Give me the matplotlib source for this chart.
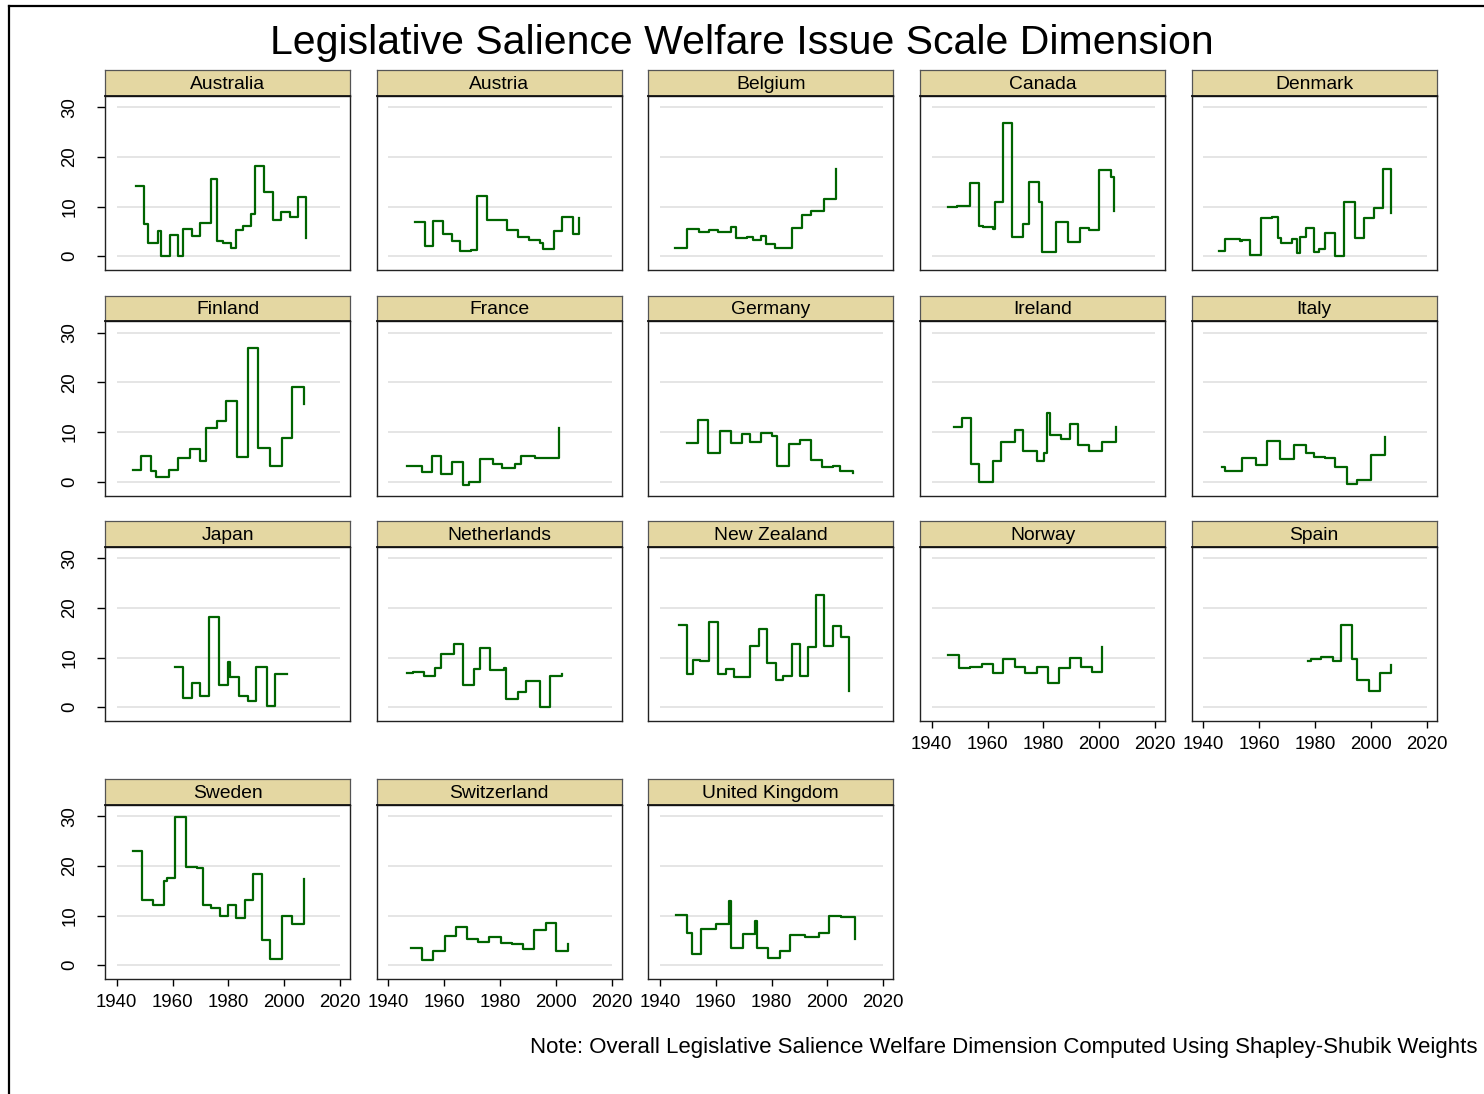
import matplotlib.pyplot as plt
from matplotlib.lines import Line2D

# Step series (year, welfare salience score)
australia_years = [1946.9, 1949.7, 1951.1, 1954.9, 1955.9, 1959.0, 1962.0, 1963.9, 1967.0, 1969.9, 1973.8, 1975.9,
                   1978.0, 1980.8, 1982.7, 1985.1, 1988.0, 1989.7, 1992.9, 1996.0, 1999.0, 2002.1, 2004.8, 2007.9]
australia_vals = [14.2, 6.5, 2.7, 5.1, 0.0, 4.3, 0.0, 5.4, 4.1, 6.7, 15.6, 3.0,
                  2.6, 1.6, 5.3, 6.1, 8.4, 18.2, 12.9, 7.2, 8.9, 7.8, 12.0, 3.6]

austria_years = [1949.7, 1953.0, 1955.8, 1959.7, 1962.7, 1965.7, 1969.7, 1971.6, 1975.4, 1982.4, 1986.6, 1990.3,
                 1994.4, 1995.4, 1999.2, 2002.2, 2006.3, 2008.2]
austria_vals = [6.9, 2.0, 7.0, 4.4, 3.1, 1.1, 1.3, 12.2, 7.2, 5.3, 3.8, 3.3,
                2.6, 1.5, 5.1, 7.9, 4.5, 7.7]

belgium_years = [1945.4, 1949.5, 1953.8, 1957.4, 1960.7, 1965.3, 1967.3, 1971.2, 1973.3, 1976.2, 1978.1, 1981.2,
                 1987.3, 1990.9, 1994.2, 1998.7, 2002.9]
belgium_vals = [1.7, 5.4, 4.9, 5.3, 4.8, 5.9, 3.6, 3.8, 3.2, 4.1, 2.4, 1.7,
                5.7, 8.2, 9.2, 11.6, 17.6]

canada_years = [1945.9, 1949.0, 1953.7, 1956.8, 1958.3, 1962.1, 1962.8, 1965.7, 1968.9, 1972.6, 1974.9, 1978.6,
                1979.4, 1984.5, 1988.7, 1993.3, 1996.5, 2000.1, 2004.2, 2005.3]
canada_vals = [9.9, 10.1, 14.7, 6.1, 5.9, 5.5, 10.9, 26.8, 3.8, 6.5, 14.9, 11.0,
               0.9, 6.9, 2.8, 5.7, 5.3, 17.3, 15.9, 9.1]

denmark_years = [1945.7, 1947.9, 1953.0, 1953.7, 1956.8, 1960.7, 1964.6, 1966.7, 1967.9, 1971.7, 1973.4, 1974.6,
                 1976.6, 1979.6, 1981.4, 1983.5, 1987.3, 1990.4, 1994.3, 1997.5, 2001.1, 2004.4, 2007.1]
denmark_vals = [1.1, 3.4, 3.1, 3.3, 0.3, 7.7, 7.9, 3.6, 2.7, 3.4, 0.7, 3.8,
                5.6, 0.9, 1.4, 4.7, 0.1, 10.9, 3.6, 7.6, 9.7, 17.6, 8.7]

finland_years = [1945.7, 1948.8, 1952.2, 1954.0, 1958.9, 1962.1, 1966.1, 1969.7, 1972.0, 1975.9, 1979.0, 1983.0,
                 1986.9, 1990.7, 1995.0, 1999.1, 2002.9, 2007.1]
finland_vals = [2.3, 5.2, 2.1, 0.9, 2.4, 4.8, 6.6, 4.1, 10.8, 12.3, 16.2, 5.0,
                27.0, 6.8, 3.2, 8.7, 19.1, 15.6]

france_years = [1946.7, 1951.9, 1955.6, 1958.9, 1962.9, 1966.7, 1968.7, 1972.7, 1977.5, 1980.6, 1985.5, 1987.5,
                1992.4, 2001.3]
france_vals = [3.1, 2.0, 5.2, 1.5, 4.0, -0.6, 0.0, 4.5, 3.6, 2.7, 3.6, 5.1,
               4.8, 10.8]

germany_years = [1949.6, 1953.6, 1957.3, 1961.6, 1965.4, 1969.3, 1972.1, 1976.3, 1980.2, 1982.1, 1986.1, 1990.0,
                 1994.1, 1997.9, 2002.0, 2004.6, 2009.0]
germany_vals = [7.7, 12.5, 5.8, 10.2, 7.7, 9.7, 7.9, 9.9, 9.2, 3.2, 7.5, 8.4,
                4.3, 2.9, 3.2, 2.1, 1.7]

ireland_years = [1948.0, 1950.9, 1953.9, 1956.8, 1962.0, 1964.8, 1969.7, 1972.6, 1977.6, 1980.4, 1981.4, 1982.5,
                 1986.4, 1989.4, 1992.3, 1996.5, 2000.9, 2006.1]
ireland_vals = [11.0, 12.9, 3.5, 0.0, 4.1, 7.9, 10.4, 6.1, 4.2, 5.8, 13.8, 9.5,
                8.6, 11.7, 7.4, 6.2, 7.9, 11.0]

italy_years = [1946.7, 1947.6, 1953.7, 1958.7, 1962.9, 1967.5, 1972.5, 1976.8, 1979.5, 1983.5, 1987.3, 1991.3,
               1995.0, 2000.1, 2005.2]
italy_vals = [3.0, 2.1, 4.8, 3.4, 8.1, 4.6, 7.4, 5.8, 4.9, 4.7, 2.9, -0.5,
              0.3, 5.4, 8.9]

japan_years = [1960.8, 1963.9, 1966.9, 1969.7, 1973.0, 1976.7, 1979.9, 1980.6, 1983.8, 1986.9, 1989.9, 1994.0,
               1996.8, 2001.1]
japan_vals = [8.1, 1.8, 4.9, 2.2, 18.1, 4.5, 9.2, 6.1, 2.2, 1.3, 8.1, 0.2,
              6.6, 6.6]

netherlands_years = [1946.7, 1948.8, 1952.9, 1956.6, 1958.9, 1963.5, 1966.6, 1970.6, 1972.8, 1976.3, 1981.3, 1982.3,
                     1986.3, 1989.3, 1994.3, 1998.0, 2002.2]
netherlands_vals = [6.8, 7.0, 6.2, 7.8, 10.7, 12.7, 4.4, 7.6, 12.0, 7.4, 7.8, 1.7,
                    3.0, 5.2, 0.1, 6.2, 6.6]

nz_years = [1946.7, 1949.7, 1951.7, 1954.4, 1957.4, 1960.7, 1963.5, 1966.6, 1972.2, 1975.4, 1978.3, 1981.4,
            1984.1, 1987.4, 1990.2, 1993.1, 1995.8, 1998.9, 2002.1, 2004.7, 2007.9]
nz_vals = [16.6, 6.6, 9.5, 9.3, 17.2, 6.6, 7.6, 6.1, 12.4, 15.8, 8.8, 5.5,
           6.2, 12.7, 6.2, 12.2, 22.6, 12.4, 16.4, 14.2, 3.2]

norway_years = [1945.9, 1949.9, 1953.7, 1957.9, 1961.9, 1965.7, 1969.7, 1973.6, 1977.6, 1981.6, 1985.5, 1989.6,
                1993.5, 1997.4, 2001.1]
norway_vals = [10.5, 7.9, 8.1, 8.6, 6.8, 9.7, 8.1, 6.8, 8.1, 4.8, 7.9, 10.0,
               8.1, 7.0, 12.2]

spain_years = [1977.6, 1978.6, 1982.3, 1986.5, 1989.2, 1993.4, 1995.2, 1999.4, 2003.4, 2007.2]
spain_vals = [9.4, 9.8, 10.1, 9.3, 16.5, 9.8, 5.4, 3.3, 6.8, 8.5]

sweden_years = [1945.7, 1949.0, 1952.9, 1957.0, 1957.9, 1961.0, 1964.8, 1968.9, 1971.0, 1973.9, 1976.9, 1979.9,
                1982.9, 1986.0, 1989.0, 1992.2, 1995.0, 1999.1, 2002.8, 2007.1]
sweden_vals = [23.0, 13.2, 12.2, 17.0, 17.5, 29.8, 19.7, 19.5, 12.2, 11.5, 10.0, 12.2,
               9.5, 13.2, 18.4, 5.0, 1.3, 10.0, 8.2, 17.3]

swiss_years = [1948.0, 1952.1, 1956.0, 1960.2, 1964.1, 1968.1, 1972.1, 1976.2, 1980.2, 1984.2, 1988.1, 1992.0,
               1996.3, 2000.2, 2004.3]
swiss_vals = [3.5, 1.0, 2.9, 5.9, 7.7, 5.2, 4.7, 5.7, 4.4, 4.2, 3.2, 7.0,
              8.4, 2.8, 4.3]

uk_years = [1945.6, 1949.6, 1951.6, 1954.8, 1959.9, 1964.8, 1965.6, 1969.7, 1973.9, 1974.7, 1978.8, 1982.9,
            1986.7, 1991.8, 1996.9, 2000.7, 2004.9, 2010.0]
uk_vals = [10.2, 6.4, 2.3, 7.3, 8.2, 13.0, 3.5, 6.3, 8.8, 3.5, 1.5, 2.9,
           6.1, 5.7, 6.4, 10.0, 9.7, 5.2]

countries = ["Australia", "Austria", "Belgium", "Canada", "Denmark",
             "Finland", "France", "Germany", "Ireland", "Italy",
             "Japan", "Netherlands", "New Zealand", "Norway", "Spain",
             "Sweden", "Switzerland", "United Kingdom"]
series = [(australia_years, australia_vals), (austria_years, austria_vals), (belgium_years, belgium_vals),
          (canada_years, canada_vals), (denmark_years, denmark_vals), (finland_years, finland_vals),
          (france_years, france_vals), (germany_years, germany_vals), (ireland_years, ireland_vals),
          (italy_years, italy_vals), (japan_years, japan_vals), (netherlands_years, netherlands_vals),
          (nz_years, nz_vals), (norway_years, norway_vals), (spain_years, spain_vals),
          (sweden_years, sweden_vals), (swiss_years, swiss_vals), (uk_years, uk_vals)]

x_ticks = [1940, 1960, 1980, 2000, 2020]
y_ticks = [0, 10, 20, 30]

TITLE = "Legislative Salience Welfare Issue Scale Dimension"
NOTE = "Note: Overall Legislative Salience Welfare Dimension Computed Using Shapley-Shubik Weights"

# layout in pixels
W, H = 1484, 1094
COL_LEFT = [105, 376.7, 648.3, 920, 1191.7]
ROW_TOP = [70, 295.5, 521, 779]
PANEL_W = 245
STRIP_H = 25.5
PLOT_H = 174.5

LINE_COLOR = "#006400"
STRIP_COLOR = "#e4d7a2"
GRID_COLOR = "#e0e0e0"

plt.rcParams['font.family'] = ['Liberation Sans', 'DejaVu Sans']

fig = plt.figure(figsize=(W / 100, H / 100), dpi=100)


def px_axes(x, y, w, h, **kw):
    return fig.add_axes([x / W, 1 - (y + h) / H, w / W, h / H], **kw)


# outer frame of the original graph (cropped on the right and bottom)
fig.add_artist(Line2D([9 / W, 9 / W], [0, 1 - 6 / H], color="black", lw=1.6))
fig.add_artist(Line2D([9 / W, 1], [1 - 6 / H, 1 - 6 / H], color="black", lw=1.6))

for i, name in enumerate(countries):
    r, c = divmod(i, 5)
    left = COL_LEFT[c]
    top = ROW_TOP[r]

    ax = px_axes(left, top + STRIP_H, PANEL_W, PLOT_H)
    yrs, vals = series[i]
    ax.hlines(y_ticks, 1940, 2020, color=GRID_COLOR, lw=1.2, zorder=1)
    ax.step(yrs, vals, where="post", color=LINE_COLOR, lw=1.6, zorder=3)
    ax.set_xlim(1935.8, 2023.6)
    ax.set_ylim(-2.8, 32.4)
    for s in ax.spines.values():
        s.set_color("#222222")
        s.set_linewidth(1.0)

    # x axis only where no panel sits below
    if i + 5 >= len(countries):
        ax.set_xticks(x_ticks)
        ax.tick_params(axis="x", length=5, width=1.0, pad=6, labelsize=13.4)
    else:
        ax.set_xticks([])
    if c == 0:
        ax.set_yticks(y_ticks)
        ax.set_yticklabels([str(v) for v in y_ticks], rotation=90, va="center")
        ax.tick_params(axis="y", length=6, width=1.0, pad=13, labelsize=13.4)
    else:
        ax.set_yticks([])

    sax = px_axes(left, top, PANEL_W, STRIP_H, facecolor=STRIP_COLOR)
    sax.set_xticks([])
    sax.set_yticks([])
    for s in sax.spines.values():
        s.set_color("#555555")
        s.set_linewidth(0.9)
    sax.spines["bottom"].set_color("#111111")
    sax.spines["bottom"].set_linewidth(1.3)
    sax.text(0.5, 0.45, name, ha="center", va="center", fontsize=13.9, transform=sax.transAxes)

fig.text(742 / W, 1 - 43 / H, TITLE, ha="center", va="center", fontsize=29.5)
fig.text(530 / W, 1 - 1047 / H, NOTE, ha="left", va="center", fontsize=16)

fig.savefig("out.png", dpi=100, facecolor="white")
